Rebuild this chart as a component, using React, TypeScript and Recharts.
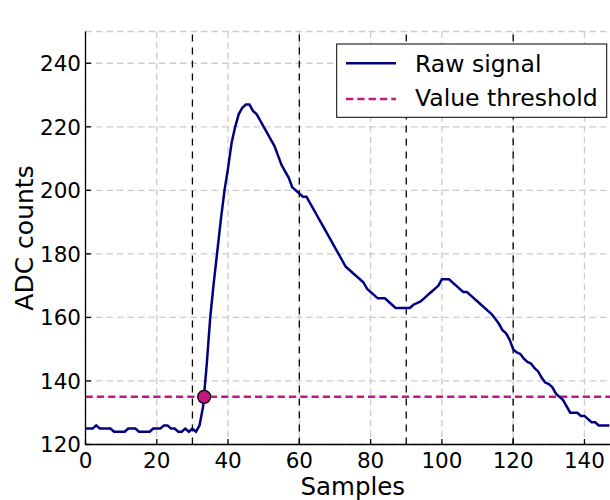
import { LineChart, Line, XAxis, YAxis, CartesianGrid, ReferenceLine, ReferenceDot, Label } from "recharts"

// ADC counts per sample (sample index = position in array)
const adcCounts = [
  125, 125, 125, 126, 125, 125, 125, 125, 124, 124,
  124, 124, 125, 125, 125, 124, 124, 124, 124, 125,
  125, 125, 126, 126, 125, 125, 124, 124, 125, 124,
  125, 124, 126, 132, 145, 160, 171, 181, 191, 200,
  207, 215, 220, 224, 226, 227, 227, 225, 224, 222,
  220, 218, 216, 214, 211, 208, 206, 204, 201, 200,
  199, 198, 198, 196, 194, 192, 190, 188, 186, 184,
  182, 180, 178, 176, 175, 174, 173, 172, 171, 169,
  168, 167, 166, 166, 166, 165, 164, 163, 163, 163,
  163, 163, 164, 164.5, 165, 166, 167, 168, 169, 170,
  172, 172, 172, 171, 170, 169, 168, 168, 167, 166,
  165, 164, 163, 162, 161, 159.5, 158, 156, 155, 153,
  150, 149, 148.5, 147, 146, 145.5, 144, 143, 141, 139.5,
  139, 138, 136, 135, 134, 132, 130, 130, 130, 129,
  129, 128, 127, 127, 126, 126, 126, 126,
]

const xTicks = [0, 20, 40, 60, 80, 100, 120, 140]
const yTicks = [120, 140, 160, 180, 200, 220, 240]
const xDomain = [0, 150]
const yDomain = [120, 250]
const sampleMarkers = [30, 60, 90, 120]
const threshold = 135
const crossing = { sample: 33.3, adc: 135 }

const title = "BRIL ChID 11, Fill 6371"
const xLabel = "Samples"
const yLabel = "ADC counts"
const seriesNames = ["Raw signal", "Value threshold"]

const data = adcCounts.map((adc, sample) => ({ sample, adc }))

const FONT = "'DejaVu Sans', sans-serif"
const SIGNAL = "#000080"
const THRESH = "#c71585"
const TICK_LEN = 5.5
const AXIS_W = 1.3

const BottomTick = (props: any) => {
  const { x, y, payload } = props
  return (
    <g>
      <line x1={x} x2={x} y1={y} y2={y - TICK_LEN} stroke="#000" strokeWidth={AXIS_W} />
      <text x={x} y={y + 23.5} textAnchor="middle" fontSize={21.5} fontFamily={FONT} fill="#000">
        {payload.value}
      </text>
    </g>
  )
}

const TopTick = (props: any) => {
  const { x, y } = props
  return <line x1={x} x2={x} y1={y} y2={y + TICK_LEN} stroke="#000" strokeWidth={AXIS_W} />
}

const LeftTick = (props: any) => {
  const { x, y, payload } = props
  return (
    <g>
      <line x1={x} x2={x + TICK_LEN} y1={y} y2={y} stroke="#000" strokeWidth={AXIS_W} />
      <text x={x - 4.5} y={y + 7.8} textAnchor="end" fontSize={21.5} fontFamily={FONT} fill="#000">
        {payload.value}
      </text>
    </g>
  )
}

const RightTick = (props: any) => {
  const { x, y } = props
  return <line x1={x} x2={x - TICK_LEN} y1={y} y2={y} stroke="#000" strokeWidth={AXIS_W} />
}

const ChartLegend = () => (
  <svg width={610} height={500} style={{ position: "absolute", left: 0, top: 0, pointerEvents: "none" }}>
    <rect x={336.7} y={44} width={270} height={73.3} fill="#fff" stroke="#000" strokeWidth={1} />
    <line x1={346} x2={396} y1={63.3} y2={63.3} stroke={SIGNAL} strokeWidth={2.5} />
    <text x={415} y={71.7} fontSize={23.5} fontFamily={FONT} fill="#000">{seriesNames[0]}</text>
    <line x1={346} x2={396} y1={99} y2={99} stroke={THRESH} strokeWidth={2.5} strokeDasharray="7.3 4" />
    <text x={415} y={106} fontSize={23.5} fontFamily={FONT} fill="#000">{seriesNames[1]}</text>
  </svg>
)

export default function App() {
  return (
    <div style={{ position: "absolute", left: 0, top: 0, width: 610, height: 500, overflow: "hidden", background: "#fff" }}>
      <LineChart width={624} height={500} data={data} margin={{ top: 31.5, right: 3.9, bottom: 0, left: 0 }}>
        <CartesianGrid stroke="#cccccc" strokeWidth={1.3} strokeDasharray="6.5 4" />
        <XAxis
          dataKey="sample"
          type="number"
          domain={xDomain}
          ticks={xTicks}
          interval={0}
          allowDataOverflow
          height={55.5}
          tickSize={0}
          tickMargin={0}
          tickLine={false}
          axisLine={{ stroke: "#000", strokeWidth: AXIS_W }}
          tick={<BottomTick />}
        >
          <Label
            content={(p: any) => {
              const vb = p.viewBox
              return (
                <text x={vb.x + vb.width / 2} y={vb.y + 50} textAnchor="middle" fontSize={24.5} fontFamily={FONT} fill="#000">
                  {xLabel}
                </text>
              )
            }}
          />
        </XAxis>
        <XAxis
          xAxisId="top"
          orientation="top"
          dataKey="sample"
          type="number"
          domain={xDomain}
          ticks={xTicks}
          interval={0}
          allowDataOverflow
          height={0}
          tickSize={0}
          tickMargin={0}
          tickLine={false}
          axisLine={{ stroke: "#000", strokeWidth: AXIS_W }}
          tick={<TopTick />}
        >
          <Label
            content={(p: any) => {
              const vb = p.viewBox
              return (
                <text x={vb.x + vb.width / 2} y={vb.y - 3.5} textAnchor="middle" fontSize={23.5} fontFamily={FONT} fill="#000">
                  {title}
                </text>
              )
            }}
          />
        </XAxis>
        <YAxis
          type="number"
          domain={yDomain}
          ticks={yTicks}
          interval={0}
          allowDataOverflow
          width={85.5}
          tickSize={0}
          tickMargin={0}
          tickLine={false}
          axisLine={{ stroke: "#000", strokeWidth: AXIS_W }}
          tick={<LeftTick />}
        >
          <Label
            content={(p: any) => {
              const vb = p.viewBox
              const cy = vb.y + vb.height / 2
              return (
                <text x={33.3} y={cy} transform={`rotate(-90, 33.3, ${cy})`} textAnchor="middle" fontSize={25} fontFamily={FONT} fill="#000">
                  {yLabel}
                </text>
              )
            }}
          />
        </YAxis>
        <YAxis
          yAxisId="right"
          orientation="right"
          type="number"
          domain={yDomain}
          ticks={yTicks}
          interval={0}
          allowDataOverflow
          width={0}
          tickSize={0}
          tickMargin={0}
          tickLine={false}
          axisLine={{ stroke: "#000", strokeWidth: AXIS_W }}
          tick={<RightTick />}
        />
        {sampleMarkers.map((s) => (
          <ReferenceLine key={s} x={s} stroke="#000" strokeWidth={1.3} strokeDasharray="7 6" />
        ))}
        <ReferenceLine y={threshold} stroke={THRESH} strokeWidth={2.5} strokeDasharray="7.3 4" />
        <Line
          type="linear"
          dataKey="adc"
          stroke={SIGNAL}
          strokeWidth={2.5}
          dot={false}
          activeDot={false}
          isAnimationActive={false}
        />
        <ReferenceDot x={crossing.sample} y={crossing.adc} r={6.5} fill={THRESH} stroke="#000" strokeWidth={1.3} />
      </LineChart>
      <ChartLegend />
    </div>
  )
}
